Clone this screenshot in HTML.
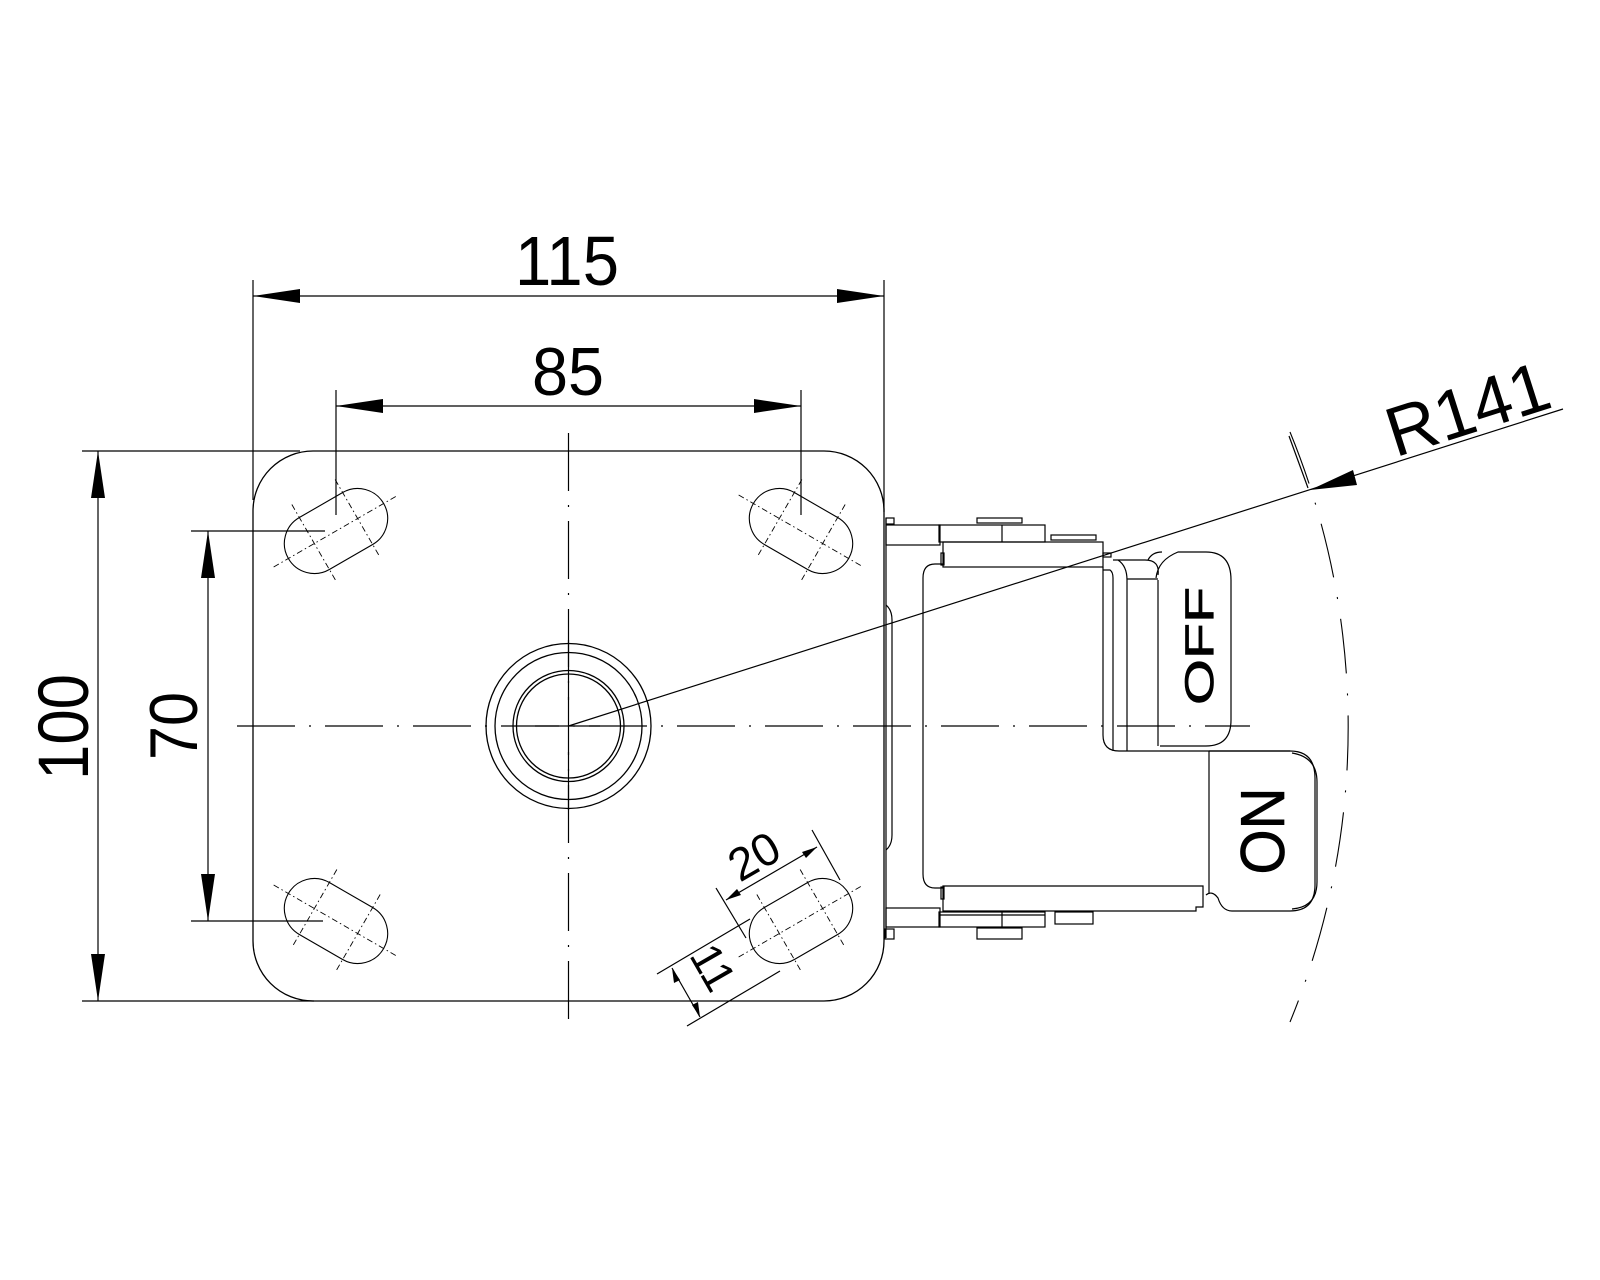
<!DOCTYPE html>
<html><head><meta charset="utf-8"><style>
html,body{margin:0;padding:0;background:#fff}
svg{display:block}
text{font-family:"Liberation Sans",sans-serif;fill:#000}
</style></head><body>
<svg width="1600" height="1280" viewBox="0 0 1600 1280" xmlns="http://www.w3.org/2000/svg">
<rect width="1600" height="1280" fill="#fff"/>
<g fill="none" stroke="#000" stroke-width="1.3">
<rect x="253" y="451" width="631" height="550" rx="60"/>
<circle cx="568.5" cy="726" r="82.5"/>
<circle cx="568.5" cy="726" r="73.5"/>
<circle cx="568.5" cy="726" r="55.5"/>
<circle cx="568.5" cy="726" r="52"/>
</g>
<g stroke="#000" stroke-width="1.2" fill="none">
<line x1="237" y1="726" x2="1250" y2="726" stroke-dasharray="58,14,2,14"/>
<line x1="568.5" y1="433" x2="568.5" y2="1020" stroke-dasharray="58,14,2,14"/>
<line x1="535" y1="726" x2="600" y2="726"/>
<line x1="568.5" y1="640" x2="568.5" y2="700"/>
<line x1="568.5" y1="752" x2="568.5" y2="810"/>
</g>
<defs>
<g id="slot">
<rect x="-55" y="-30" width="110" height="60" rx="30" fill="none" stroke="#000" stroke-width="1.1"/>
<g stroke="#000" stroke-width="0.9" stroke-dasharray="6,3,1.5,3">
<line x1="-72" y1="0" x2="72" y2="0"/>
<line x1="-25" y1="-45" x2="-25" y2="45"/>
<line x1="25" y1="-45" x2="25" y2="45"/>
</g>
</g>
</defs>
<use href="#slot" transform="translate(336,531) rotate(-30)"/>
<use href="#slot" transform="translate(801,531) rotate(30)"/>
<use href="#slot" transform="translate(336,921) rotate(30)"/>
<use href="#slot" transform="translate(801,921) rotate(-30)"/>

<g stroke="#000" stroke-width="1.2" fill="none">
<line x1="253" y1="280" x2="253" y2="500"/>
<line x1="884" y1="280" x2="884" y2="512"/>
<line x1="253" y1="296" x2="884" y2="296"/>
<line x1="336" y1="390" x2="336" y2="515"/>
<line x1="801" y1="390" x2="801" y2="515"/>
<line x1="336" y1="406" x2="801" y2="406"/>
<line x1="82" y1="451" x2="300" y2="451"/>
<line x1="82" y1="1001" x2="314" y2="1001"/>
<line x1="98" y1="451" x2="98" y2="1001"/>
<line x1="191" y1="531" x2="325" y2="531"/>
<line x1="191" y1="921" x2="323" y2="921"/>
<line x1="208" y1="531" x2="208" y2="921"/>
<line x1="716" y1="888" x2="746" y2="938"/>
<line x1="812" y1="830" x2="840" y2="880"/>
<line x1="726" y1="900" x2="817" y2="847"/>
<line x1="657" y1="974" x2="750" y2="919"/>
<line x1="687" y1="1026" x2="780" y2="971"/>
<line x1="672" y1="968" x2="700" y2="1017"/>
<line x1="568.5" y1="726" x2="1563" y2="409"/>
<line x1="1289" y1="436" x2="1308" y2="488"/>
</g>
<g fill="#000">
<polygon points="253,296 300,289 300,303"/>
<polygon points="884,296 837,289 837,303"/>
<polygon points="336,406 383,399 383,413"/>
<polygon points="801,406 754,399 754,413"/>
<polygon points="98,451 91,498 105,498"/>
<polygon points="98,1001 91,954 105,954"/>
<polygon points="208,531 201,578 215,578"/>
<polygon points="208,921 201,874 215,874"/>
<polygon points="726,900 737,889 741,895"/>
<polygon points="817,847 806,858 802,852"/>
<polygon points="672,968 674,983 680,980"/>
<polygon points="700,1017 698,1002 692,1005"/>
<polygon points="1310,490 1353,470 1357,485"/>
</g>
<path d="M 1290 432 A 777 777 0 0 1 1290 1022" fill="none" stroke="#000" stroke-width="1.1" stroke-dasharray="55,20,2,20"/>

<text x="567" y="285" font-size="70" text-anchor="middle" textLength="104" lengthAdjust="spacingAndGlyphs">115</text>
<text x="568" y="395" font-size="68" text-anchor="middle" textLength="72" lengthAdjust="spacingAndGlyphs">85</text>
<text transform="translate(88,727) rotate(-90)" font-size="71" text-anchor="middle" textLength="106" lengthAdjust="spacingAndGlyphs">100</text>
<text transform="translate(197,726) rotate(-90)" font-size="68" text-anchor="middle" textLength="68" lengthAdjust="spacingAndGlyphs">70</text>
<text transform="translate(762,870) rotate(-30)" font-size="46" text-anchor="middle">20</text>
<text transform="translate(700,975) rotate(60)" font-size="44" text-anchor="middle">11</text>
<text transform="translate(1475,432) rotate(-17.7)" font-size="70" text-anchor="middle">R141</text>

<g fill="none" stroke="#000" stroke-width="1.2">
<line x1="886" y1="518" x2="886" y2="938"/>
<rect x="886" y="518" width="8" height="6"/>
<rect x="886" y="525" width="54" height="20"/>
<rect x="939" y="525" width="106" height="17"/>
<line x1="1002" y1="525" x2="1002" y2="542"/>
<rect x="977" y="518" width="45" height="5"/>
<rect x="1051" y="535" width="45" height="5"/>
<rect x="943" y="542" width="160" height="25"/>
<rect x="941" y="553" width="3" height="12"/>
<rect x="1103" y="553" width="8" height="4"/>
<path d="M 943 564 H 935 Q 923 564 923 578 V 874 Q 923 888 935 888 H 943"/>
<path d="M 886 605 Q 892 610 892 620 V 835 Q 892 845 886 850"/>
<path d="M 1103 567 V 735 Q 1103 751 1119 751"/>
<path d="M 1103 570 H 1110 Q 1113 572 1113 578 V 751"/>
<path d="M 1113 560 H 1145 Q 1160 560 1158 575 M 1118 560 Q 1127 566 1127 580 V 751"/>
<line x1="1127" y1="579" x2="1158" y2="579"/>
<line x1="1119" y1="751" x2="1290" y2="751"/>
<path d="M 1158 580 V 746 M 1156 578 Q 1158 560 1178 552 H 1206 Q 1231 552 1231 580 V 720 Q 1231 746 1206 746 H 1160"/>
<path d="M 1148 560 Q 1152 552 1162 552"/>
<line x1="1209" y1="751" x2="1209" y2="893"/>
<path d="M 1209 751 H 1290 Q 1315 751 1315 778 V 885 Q 1315 911 1290 911 H 1232 Q 1222 911 1218 898 Q 1212 890 1206 895"/>
<path d="M 1292 753 Q 1317 757 1317 782 V 882 Q 1317 907 1292 909"/>
<path d="M 943 886 H 1203 V 907 H 1196 V 911 H 943 Z"/>
<rect x="941" y="887" width="3" height="12"/>
<rect x="886" y="908" width="54" height="19"/>
<rect x="939" y="912" width="106" height="15"/>
<line x1="1002" y1="912" x2="1002" y2="927"/>
<line x1="939" y1="915" x2="1045" y2="915"/>
<rect x="977" y="928" width="45" height="11"/>
<rect x="1055" y="912" width="38" height="12"/>
<rect x="885" y="929" width="9" height="10"/>
</g>
<text transform="translate(1213,646) rotate(-90)" font-size="40" text-anchor="middle" textLength="118" lengthAdjust="spacingAndGlyphs" fill="none" stroke="#000" stroke-width="0.7">OFF</text>
<text transform="translate(1284,831) rotate(-90)" font-size="62" text-anchor="middle" textLength="87" lengthAdjust="spacingAndGlyphs" fill="none" stroke="#000" stroke-width="0.7">ON</text>
</svg>
</body></html>
